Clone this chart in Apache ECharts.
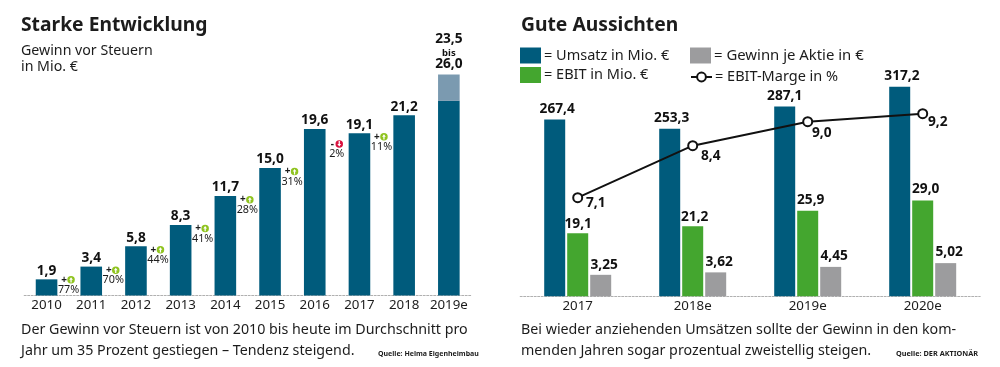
<!DOCTYPE html>
<html><head><meta charset="utf-8">
<script src="https://cdn.jsdelivr.net/npm/echarts@6/dist/echarts.min.js"></script>
<style>html,body{margin:0;padding:0;background:#fff}#c{width:1000px;height:367px}</style>
</head><body><div id="c"></div>
<script>
// Left chart data
const years = ['2010','2011','2012','2013','2014','2015','2016','2017','2018','2019e'];
const profit = [1.9,3.4,5.8,8.3,11.7,15.0,19.6,19.1,21.2,22.9];
const profitExtension = [null,null,null,null,null,null,null,null,null,3.1];
const growth = [77,70,44,41,28,31,-2,11];
const forecastLow = '23,5';
const forecastHigh = '26,0';
// Right chart data
const periods = ['2017','2018e','2019e','2020e'];
const revenue = [267.4,253.3,287.1,317.2];
const ebit = [19.1,21.2,25.9,29.0];
const eps = [3.25,3.62,4.45,5.02];
const margin = [7.1,8.4,9.0,9.2];

const FONT = '"Noto Sans"';
const INK = '#1c1c1c';
const BLUE = '#005b7c', BLUE_L = '#7b9ab0', GREEN = '#44a62f', GRAY = '#9c9c9e';
const UP = 'path://M12 0A12 12 0 1 1 12 24A12 12 0 1 1 12 0ZM12 4L6 12L10 12L10 21L14 21L14 12L18 12Z';
const DOWN = 'path://M12 0A12 12 0 1 1 12 24A12 12 0 1 1 12 0ZM12 20L18 12L14 12L14 3L10 3L10 12L6 12Z';
const comma = (v, d) => v.toFixed(d).replace('.', ',');
const growthDy = i => i === 0 ? 10.4 : i === 6 ? 25 : 13.6;
const VS = 13.7;
const valueLabel = {show:true, position:'top', distance:1.5, fontFamily:FONT, fontWeight:'bold', fontSize:VS, color:'#111'};

const texts = [
  [21,26,'Starke Entwicklung','bold 19.3px'],
  [21,51,'Gewinn vor Steuern','14.2px'],
  [21,67,'in Mio. €','14.2px'],
  [21,330,'Der Gewinn vor Steuern ist von 2010 bis heute im Durchschnitt pro','14.25px'],
  [21,351,'Jahr um 35 Prozent gestiegen – Tendenz steigend.','14.25px'],
  [378,354,'Quelle: Helma Eigenheimbau','bold 7px'],
  [521,26,'Gute Aussichten','bold 19.3px'],
  [521,330,'Bei wieder anziehenden Umsätzen sollte der Gewinn in den kom-','14.25px'],
  [521,351,'menden Jahren sogar prozentual zweistellig steigen.','14.25px'],
  [896,354,'Quelle: DER AKTIONÄR','bold 7.3px']
];

const chart = echarts.init(document.getElementById('c'), null, {renderer:'canvas'});
const catAxis = (idx, data) => ({
  type:'category', gridIndex:idx, data,
  axisLine:{onZero:false, lineStyle:{color:'#b0b0b0', type:[2,1.5], width:1}},
  axisTick:{show:false},
  axisLabel:{fontFamily:FONT, fontSize:13.3, color:INK, margin:3, interval:0}
});
const hiddenY = (grid, min, max) => ({type:'value', gridIndex:grid, min, max, show:false});
const legendBase = {padding:0, orient:'vertical', itemWidth:21, itemHeight:16, itemGap:3, selectedMode:false,
  formatter:n=>'= '+n, textStyle:{fontFamily:FONT, fontSize:14.5, color:INK, padding:[0,0,0,-2]}};
const hiddenPoint = {symbol:'circle', symbolSize:1, itemStyle:{color:'transparent', borderWidth:0}};

chart.setOption({
  animation:false,
  backgroundColor:'#fff',
  textStyle:{fontFamily:FONT},
  graphic:texts.map(([x,y,text,f]) => ({
    type:'text', silent:true,
    style:{x, y, text, font:f+' '+FONT, fill:INK, textVerticalAlign:'middle', textAlign:'left'}
  })),
  grid:[
    {left:24.2, width:447, top:40.5, height:255},
    {left:520.2, width:460, top:40.3, height:256}
  ],
  xAxis:[catAxis(0,years), catAxis(1,periods)],
  yAxis:[
    hiddenY(0,0,30),
    hiddenY(1,0,387.3),
    hiddenY(1,0,77.46),
    hiddenY(1,0,38.73),
    hiddenY(1,4.635,11.035)
  ],
  legend:[
    {...legendBase, left:520, top:47.5, itemGap:3.5,
     data:[{name:'Umsatz in Mio. €',icon:'rect'},{name:'EBIT in Mio. €',icon:'rect'}]},
    {...legendBase, left:690, top:47.5,
     textStyle:{...legendBase.textStyle, fontSize:14.9},
     data:[{name:'Gewinn je Aktie in €',icon:'rect'}]},
    {...legendBase, left:690, top:69.5, itemHeight:11,
     data:['EBIT-Marge in %']}
  ],
  series:[
    {type:'bar', name:'Gewinn', xAxisIndex:0, yAxisIndex:0, stack:'p', barWidth:21.6,
     itemStyle:{color:BLUE},
     data:profit.map((v,i)=> i<9 ? {value:v, label:{...valueLabel, formatter:comma(v,1)}} : {value:v, label:{show:false}})},
    {type:'bar', name:'Prognose', xAxisIndex:0, yAxisIndex:0, stack:'p', barWidth:21.6,
     itemStyle:{color:BLUE_L},
     data:profitExtension,
     label:{show:true, position:'top', distance:5, align:'center',
       formatter:()=>`{a|${forecastLow}}\n{b|bis}\n{c|${forecastHigh}}`,
       rich:{a:{fontFamily:FONT, fontWeight:'bold', fontSize:VS, color:'#111', lineHeight:16, align:'center'},
             b:{fontFamily:FONT, fontWeight:'bold', fontSize:9.5, color:'#111', lineHeight:12, align:'center'},
             c:{fontFamily:FONT, fontWeight:'bold', fontSize:VS, color:'#111', lineHeight:10, align:'center'}}}},
    {type:'line', name:'Wachstum', xAxisIndex:0, yAxisIndex:0, silent:true, z:5,
     lineStyle:{opacity:0}, ...hiddenPoint,
     data:growth.map((g,i)=>({value:profit[i],
       label:{show:true, position:'inside', offset:[22,growthDy(i)], formatter:Math.abs(g)+'%',
              fontFamily:FONT, fontSize:10.8, color:INK}}))},
    {type:'line', name:'Vorzeichen', xAxisIndex:0, yAxisIndex:0, silent:true, z:5,
     lineStyle:{opacity:0}, ...hiddenPoint,
     data:growth.map((g,i)=>({value:profit[i],
       label:{show:true, position:'inside', offset:[17.5,growthDy(i)-10], formatter:g<0?'-':'+',
              fontFamily:FONT, fontWeight:'bold', fontSize:10, color:INK}}))},
    {type:'line', name:'Richtung', xAxisIndex:0, yAxisIndex:0, silent:true, z:5,
     lineStyle:{opacity:0},
     data:growth.map((g,i)=>({value:profit[i],
       symbol:g<0?DOWN:UP, symbolSize:7.5, symbolOffset:[24.5,growthDy(i)-10],
       itemStyle:{color:g<0?'#d9123f':'#8fc31f'}}))},

    {type:'bar', name:'Umsatz in Mio. €', xAxisIndex:1, yAxisIndex:1, barWidth:21, barGap:'9.5%',
     itemStyle:{color:BLUE},
     data:revenue.map((v,i)=>({value:v, label:{...valueLabel, offset:[[2.5,2,0,2.2][i],-2], formatter:comma(v,1)}}))},
    {type:'bar', name:'EBIT in Mio. €', xAxisIndex:1, yAxisIndex:2, barWidth:21, barGap:'9.5%',
     itemStyle:{color:GREEN},
     data:ebit.map((v,i)=>({value:v, label:{...valueLabel, offset:[[0.5,2,3,3][i],[-1,-1,-2,-3][i]], formatter:comma(v,1)}}))},
    {type:'bar', name:'Gewinn je Aktie in €', xAxisIndex:1, yAxisIndex:3, barWidth:21, barGap:'9.5%',
     itemStyle:{color:GRAY},
     data:eps.map((v,i)=>({value:v, label:{...valueLabel, offset:[3.5,[-1,-2,-2,-3][i]], formatter:comma(v,2)}}))},
    {type:'line', name:'EBIT-Marge in %', xAxisIndex:1, yAxisIndex:4, z:6,
     symbol:'circle', symbolSize:9, showAllSymbol:true,
     lineStyle:{color:'#111', width:2},
     itemStyle:{color:'#fff', borderColor:'#111', borderWidth:2},
     data:margin.map((v,i)=>({value:v, label:{show:true, position:'inside',
        offset:[[18,18,14,15][i],[5,10,11,8.6][i]], formatter:comma(v,1),
        fontFamily:FONT, fontWeight:'bold', fontSize:VS, color:'#111'}}))}
  ]
});
</script></body></html>
